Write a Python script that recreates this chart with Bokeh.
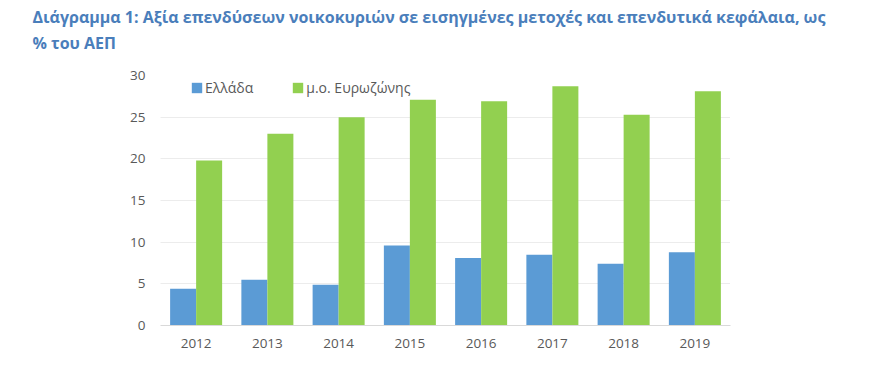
from bokeh.plotting import figure
from bokeh.layouts import column
from bokeh.models import ColumnDataSource, FactorRange, Title, Legend, LegendItem, SingleIntervalTicker
from bokeh.transform import dodge
from bokeh.embed import file_html
from bokeh.resources import INLINE

years = ["2012", "2013", "2014", "2015", "2016", "2017", "2018", "2019"]
greece = [4.4, 5.5, 4.9, 9.6, 8.1, 8.5, 7.4, 8.8]
eurozone = [19.8, 23.0, 25.0, 27.1, 26.9, 28.7, 25.3, 28.1]
series_names = ["Ελλάδα", "μ.ο. Ευρωζώνης"]
title_line1 = "Διάγραμμα 1: Αξία επενδύσεων νοικοκυριών σε εισηγμένες μετοχές και επενδυτικά κεφάλαια, ως"
title_line2 = "% του ΑΕΠ"

src = ColumnDataSource(dict(year=years, gr=greece, ez=eurozone))

FONT = "Open Sans"
TXT = "#595959"
TITLE_COLOR = "#4a7ebb"
LEFT, RIGHT = 160, 134

# ---- title strip: a bare figure whose above-panel holds the two title lines ----
t = figure(width=864, height=60, output_backend="svg", toolbar_location=None,
           x_axis_location=None, y_axis_location=None,
           min_border_left=LEFT, min_border_right=RIGHT, min_border_top=53, min_border_bottom=0)
t.title = None
t.outline_line_color = None
t.grid.visible = False
t.add_layout(Title(text=title_line2, text_font=FONT, text_font_size="16px", text_font_style="bold",
                   text_color=TITLE_COLOR, align="left", offset=-128, standoff=0), "above")
t.add_layout(Title(text=title_line1, text_font=FONT, text_font_size="16px", text_font_style="bold",
                   text_color=TITLE_COLOR, align="left", offset=-128, standoff=3), "above")

# ---- chart ----
p = figure(x_range=FactorRange(*years, range_padding=0), y_range=(0, 30),
           width=864, height=292, output_backend="svg", toolbar_location=None,
           min_border_left=LEFT, min_border_right=RIGHT, min_border_bottom=27, min_border_top=15)
p.title = None
p.outline_line_color = None

r1 = p.vbar(x=dodge("year", -0.1825, range=p.x_range), top="gr", width=0.365, source=src,
            fill_color="#5b9bd5", line_color=None)
r2 = p.vbar(x=dodge("year", 0.1825, range=p.x_range), top="ez", width=0.365, source=src,
            fill_color="#92d050", line_color=None)

p.xgrid.grid_line_color = None
p.ygrid.grid_line_color = "#d9d9d9"
p.ygrid.grid_line_dash = "1 1"
p.yaxis.ticker = SingleIntervalTicker(interval=5)
p.yaxis.axis_line_color = None
p.yaxis.major_tick_line_color = None
p.yaxis.minor_tick_line_color = None
p.yaxis.major_tick_out = 0
p.yaxis.major_tick_in = 0
p.yaxis.major_label_text_font = FONT
p.yaxis.major_label_text_font_size = "13.5px"
p.yaxis.major_label_text_color = TXT
p.yaxis.major_label_standoff = 11

p.xaxis.axis_line_color = "#d9d9d9"
p.xaxis.major_tick_line_color = None
p.xaxis.minor_tick_line_color = None
p.xaxis.major_tick_out = 0
p.xaxis.major_tick_in = 0
p.xaxis.major_label_text_font = FONT
p.xaxis.major_label_text_font_size = "13.5px"
p.xaxis.major_label_text_color = TXT
p.xaxis.major_label_standoff = 13

legend = Legend(items=[LegendItem(label=series_names[0], renderers=[r1]),
                       LegendItem(label=series_names[1], renderers=[r2])],
                orientation="horizontal", location=(30, 228),
                label_text_font=FONT, label_text_font_size="14px", label_text_color=TXT,
                glyph_width=13, glyph_height=13, label_standoff=2, spacing=38,
                label_height=16, padding=0, margin=0, border_line_color=None,
                background_fill_alpha=0)
p.add_layout(legend, "center")

open("out.html", "w").write(file_html(column(t, p, spacing=0), INLINE))
